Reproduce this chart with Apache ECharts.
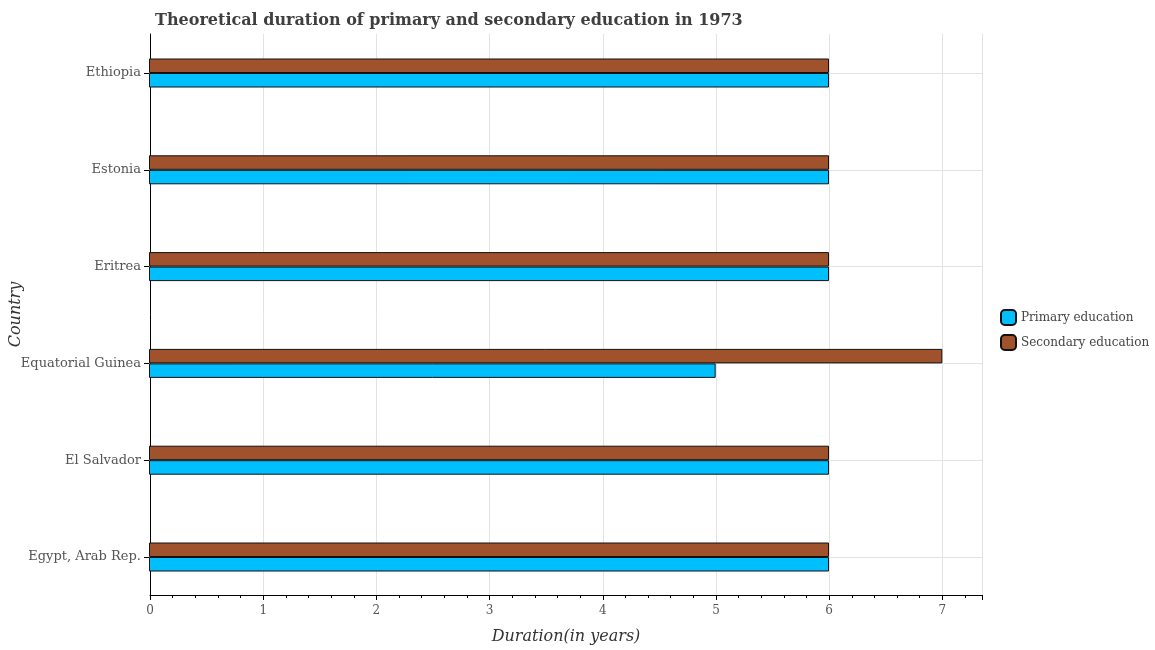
<!DOCTYPE html>
<html><head><meta charset="utf-8">
<script src="https://cdn.jsdelivr.net/npm/echarts@6/dist/echarts.min.js"></script>
<style>html,body{margin:0;padding:0;background:#fff}#c{width:1155px;height:650px}</style>
</head><body><div id="c"></div>
<script>
const categories = ["Egypt, Arab Rep.", "El Salvador", "Equatorial Guinea", "Eritrea", "Estonia", "Ethiopia"];
const primaryEducation = [6, 6, 5, 6, 6, 6];
const secondaryEducation = [6, 6, 7, 6, 6, 6];
const xTicks = [0, 1, 2, 3, 4, 5, 6, 7];

const font = "DejaVu Serif";
const chart = echarts.init(document.getElementById('c'));
const xMax = 7.35;
chart.setOption({
  animation: false,
  title: {
    text: "Theoretical duration of primary and secondary education in 1973",
    left: 150, top: 8,
    textStyle: {fontFamily: font, fontSize: 16, fontWeight: 'bold', color: '#3f3f3f'}
  },
  legend: {
    orient: 'vertical', left: 995, top: 304, itemWidth: 15, itemHeight: 15, itemGap: 8,
    data: ['Primary education', 'Secondary education'],
    textStyle: {fontFamily: font, fontSize: 12, color: '#444'}
  },
  grid: [
    {left: 149, top: 34, width: 833, height: 562},
    {left: 149, top: 73, width: 833, height: 484}
  ],
  xAxis: [
    {type: 'value', gridIndex: 0, min: 0, max: xMax, interval: 1,
     name: 'Duration(in years)', nameLocation: 'middle', nameGap: 34,
     nameTextStyle: {fontFamily: font, fontSize: 16, fontStyle: 'italic', color: '#333'},
     axisLine: {show: true, lineStyle: {color: '#000', width: 1}},
     axisTick: {show: true, length: 5, lineStyle: {color: '#000'}},
     minorTick: {show: true, splitNumber: 5, length: 3, lineStyle: {color: '#000'}},
     axisLabel: {fontFamily: font, fontSize: 12, color: '#555', margin: 10,
       formatter: v => xTicks.includes(v) ? String(v) : ''},
     splitLine: {show: true, lineStyle: {color: '#e3e3e3', width: 1}}},
    {type: 'value', gridIndex: 1, min: 0, max: xMax, show: false}
  ],
  yAxis: [
    {type: 'value', gridIndex: 0, min: 0, max: 1,
     name: 'Country', nameLocation: 'middle', nameGap: 126,
     nameTextStyle: {fontFamily: font, fontSize: 16, fontStyle: 'italic', color: '#333'},
     axisLine: {show: true, lineStyle: {color: '#000', width: 1}},
     axisTick: {show: false}, axisLabel: {show: false}, splitLine: {show: false}},
    {type: 'category', gridIndex: 1, data: categories, boundaryGap: false,
     axisLine: {show: false},
     axisTick: {show: true, length: 5, lineStyle: {color: '#000'}},
     axisLabel: {fontFamily: font, fontSize: 13, color: '#555', margin: 8},
     splitLine: {show: true, lineStyle: {color: '#e3e3e3', width: 1}}}
  ],
  series: [
    {name: 'Secondary education', type: 'bar', xAxisIndex: 1, yAxisIndex: 1, data: secondaryEducation,
     barWidth: 14.5, barGap: '0%', clip: false,
     itemStyle: {color: '#a0522d', borderColor: '#111', borderWidth: 1}},
    {name: 'Primary education', type: 'bar', xAxisIndex: 1, yAxisIndex: 1, data: primaryEducation,
     barWidth: 14.5, barGap: '0%', clip: false,
     itemStyle: {color: '#00bfff', borderColor: '#111', borderWidth: 1}}
  ]
});
</script></body></html>
